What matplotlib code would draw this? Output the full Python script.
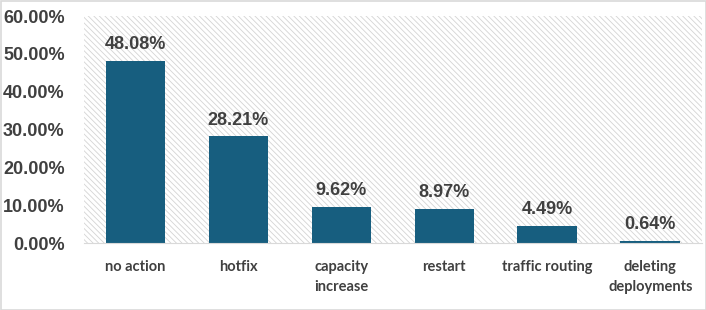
import matplotlib
matplotlib.use("Agg")
import matplotlib.pyplot as plt
from matplotlib.patches import Rectangle

categories = ["no action", "hotfix", "capacity\nincrease", "restart", "traffic routing", "deleting\ndeployments"]
values = [48.08, 28.21, 9.62, 8.97, 4.49, 0.64]
yticks = [0, 10, 20, 30, 40, 50, 60]

plt.rcParams['hatch.linewidth'] = 0.6
fig = plt.figure(figsize=(7.06, 3.10), dpi=100)
ax = fig.add_axes([0.119, 0.216, 0.875, 0.732])

bg = Rectangle((0, 0), 1, 1, transform=ax.transAxes, facecolor="white",
               edgecolor="#d4d4d4", hatch="\\\\\\\\\\\\", linewidth=0, zorder=0)
ax.add_patch(bg)

x = list(range(len(categories)))
bars = ax.bar(x, values, width=0.58, color="#175E7F", zorder=2)
for xi, v in zip(x, values):
    ax.annotate(f"{v:.2f}%", (xi, v), xytext=(0, 8.5), textcoords="offset points",
                ha="center", va="baseline", fontsize=13,
                fontweight="bold", color="#404040", family="Liberation Sans")

ax.set_xlim(-0.5, len(categories) - 0.5)
ax.set_ylim(0, 60)
ax.set_yticks(yticks)
ax.set_yticklabels([f"{t:.2f}%" for t in yticks], fontsize=13, fontweight="bold",
                   color="#404040", family="Liberation Sans")
ax.set_xticks(x)
ax.set_xticklabels(categories, fontsize=10.5, fontweight="bold", color="#404040",
                   family="Lato", linespacing=1.55, va="top")
ax.tick_params(axis="both", length=0)
ax.tick_params(axis="x", pad=12)
ax.tick_params(axis="y", pad=14)
for s in ["top", "right", "left"]:
    ax.spines[s].set_visible(False)
ax.spines["bottom"].set_color("#d9d9d9")
ax.spines["bottom"].set_zorder(3)

fig.patches.append(Rectangle((0.5/706, 0.5/310), 1 - 1/706, 1 - 1/310, transform=fig.transFigure,
                             fill=False, edgecolor="#d9d9d9", linewidth=1.2))
fig.savefig("out.png", dpi=100)
